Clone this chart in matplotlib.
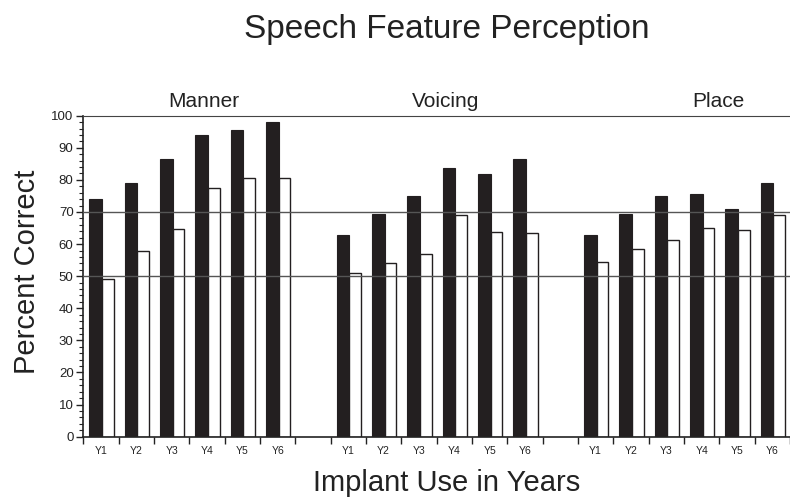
import numpy as np
import matplotlib
matplotlib.use('Agg')
import matplotlib.pyplot as plt
from matplotlib.ticker import MultipleLocator

plt.rcParams['font.family'] = ['Liberation Sans', 'DejaVu Sans']

# data
groups = ['Manner', 'Voicing', 'Place']
years = ['Y1', 'Y2', 'Y3', 'Y4', 'Y5', 'Y6']
dark_vals = [[74.1, 79.1, 86.4, 94.0, 95.6, 98.0],
             [62.7, 69.4, 75.0, 83.6, 81.9, 86.5],
             [62.7, 69.4, 75.0, 75.5, 70.9, 79.1]]
light_vals = [[49.0, 57.9, 64.6, 77.6, 80.5, 80.5],
              [51.1, 54.2, 56.9, 69.0, 63.7, 63.5],
              [54.4, 58.5, 61.4, 64.9, 64.4, 69.0]]
ref_lines = [50, 70]

fig = plt.figure(figsize=(7.9, 4.98), dpi=100)
ax = fig.add_axes([0.1055, 0.1231, 0.8945, 0.6446])

slot_start = []
for g in range(len(groups)):
    for i in range(len(years)):
        slot_start.append(g * 7 + i)
slot_start = np.array(slot_start)
dark = np.array(dark_vals).ravel()
light = np.array(light_vals).ravel()

ax.bar(slot_start + 0.17, dark, width=0.355, align='edge', color='#231f20',
       edgecolor='#231f20', linewidth=0.8, zorder=2)
ax.bar(slot_start + 0.525, light, width=0.33, align='edge', color='white',
       edgecolor='#231f20', linewidth=1.0, zorder=2)

for r in ref_lines:
    ax.axhline(r, color='#555555', linewidth=1.0, zorder=3)

ax.set_xlim(0, 19.74)
ax.set_ylim(0, 100)

# y axis
ax.yaxis.set_major_locator(MultipleLocator(10))
ax.yaxis.set_minor_locator(MultipleLocator(2))
ax.tick_params(axis='y', which='major', length=5, width=1, labelsize=9.5, pad=2, colors='#222222')
ax.tick_params(axis='y', which='minor', length=3, width=0.8, colors='#222222')

# x axis: boundary ticks + centred labels
ax.set_xticks(np.arange(0, 21))
ax.set_xticklabels([])
ax.set_xticks(slot_start + 0.5, minor=True)
ax.set_xticklabels(years * 3, minor=True)
ax.tick_params(axis='x', which='major', length=5, width=1, colors='#222222')
ax.tick_params(axis='x', which='minor', length=0, labelsize=7.5, pad=7, labelcolor='#222222')

ax.spines['right'].set_visible(False)
ax.spines['top'].set_color('#444444')
ax.spines['left'].set_color('#222222')
ax.spines['bottom'].set_color('#222222')
ax.spines['left'].set_linewidth(1.2)
ax.spines['bottom'].set_linewidth(1.2)

label_pos = [3.4, 10.24, 17.98]
for name, xp in zip(groups, label_pos):
    ax.text(xp, 101.5, name, ha='center', va='bottom', fontsize=15, color='#222222')

fig.text(0.565, 0.94, 'Speech Feature Perception', ha='center', va='center',
         fontsize=24, color='#222222')
fig.text(0.565, 0.03, 'Implant Use in Years', ha='center', va='center',
         fontsize=21, color='#222222')
fig.text(0.034, 0.455, 'Percent Correct', ha='center', va='center', rotation=90,
         fontsize=21, color='#222222')

fig.savefig('out.png', dpi=100)
